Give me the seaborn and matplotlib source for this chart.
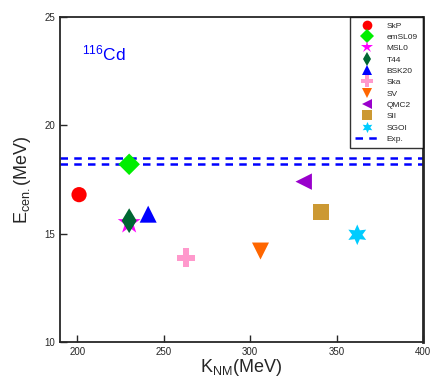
import matplotlib
matplotlib.use("Agg")
import matplotlib.pyplot as plt
import seaborn as sns
import pandas as pd

models = ["SkP", "emSL09", "MSL0", "T44", "BSK20", "Ska", "SV", "QMC2", "SII", "SGOI"]
k_nm = [201, 230, 230, 230, 241, 263, 306, 331, 341, 362]
e_cen = [16.8, 18.2, 15.5, 15.6, 15.9, 13.9, 14.2, 17.4, 16.0, 14.95]
exp_band = [18.2, 18.5]

# styling per model
colors = ["#ff0000", "#00ee00", "#ff00ff", "#006633", "#0000ff",
          "#ff99cc", "#ff6600", "#9900cc", "#cc9933", "#00ccff"]
markers = ["o", "D", "*", "d", "^", "P", "v", "<", "s", (6, 1, 0)]
msizes = [120, 120, 300, 160, 150, 170, 150, 140, 130, 220]
leg_msizes = [7, 7, 9, 7, 7, 8, 7, 7, 7, 8]

df = pd.DataFrame({"model": models, "K": k_nm, "E": e_cen})

sns.set_style("ticks")
plt.rcParams["font.family"] = ["Liberation Sans", "DejaVu Sans"]
plt.rcParams["mathtext.fontset"] = "custom"
plt.rcParams["mathtext.rm"] = "Liberation Sans"
plt.rcParams["mathtext.it"] = "Liberation Sans"

fig = plt.figure(figsize=(4.32, 3.91), dpi=100)
ax = fig.add_axes([0.139, 0.125, 0.840, 0.832])

sns.scatterplot(data=df, x="K", y="E", hue="model", style="model", size="model",
                palette=dict(zip(models, colors)), markers=dict(zip(models, markers)),
                sizes=dict(zip(models, msizes)), linewidth=0, ax=ax, zorder=3)

for v in exp_band:
    ax.axhline(v, color="#0000ff", ls=(0, (3, 2.5)), lw=1.8, zorder=2)

ax.set_xlim(190, 400)
ax.set_ylim(10, 25)
ax.set_xticks([200, 250, 300, 350, 400])
ax.set_yticks([10, 15, 20, 25])
ax.tick_params(direction="in", labelsize=7, length=5, width=1)
for sp in ax.spines.values():
    sp.set_linewidth(1.3)
    sp.set_visible(True)
ax.spines["right"].set_linewidth(2)

ax.set_xlabel(r"K$_{\rm NM}$(MeV)", fontsize=13, labelpad=0)
ax.set_ylabel(r"E$_{\rm cen.}$(MeV)", fontsize=13, labelpad=8)
ax.text(0.06, 0.865, r"$^{116}$Cd", transform=ax.transAxes, color="#0000ff", fontsize=12.5)

handles, labels = ax.get_legend_handles_labels()
exp_line = plt.Line2D([], [], color="#0000ff", ls=(0, (3, 2.5)), lw=1.8)
leg = ax.legend(handles + [exp_line], labels + ["Exp."], loc="upper right",
                fontsize=6, frameon=True, fancybox=False, borderaxespad=0,
                handlelength=2.8, labelspacing=0.42, borderpad=0.6, handletextpad=1.0)
leg.get_frame().set_edgecolor("black")
leg.get_frame().set_linewidth(1)
for h, ms in zip(leg.legend_handles[:-1], leg_msizes):
    if hasattr(h, "set_markersize"):
        h.set_markersize(ms)
    elif hasattr(h, "set_sizes"):
        h.set_sizes([ms * ms])

fig.savefig("out.png", dpi=100)
